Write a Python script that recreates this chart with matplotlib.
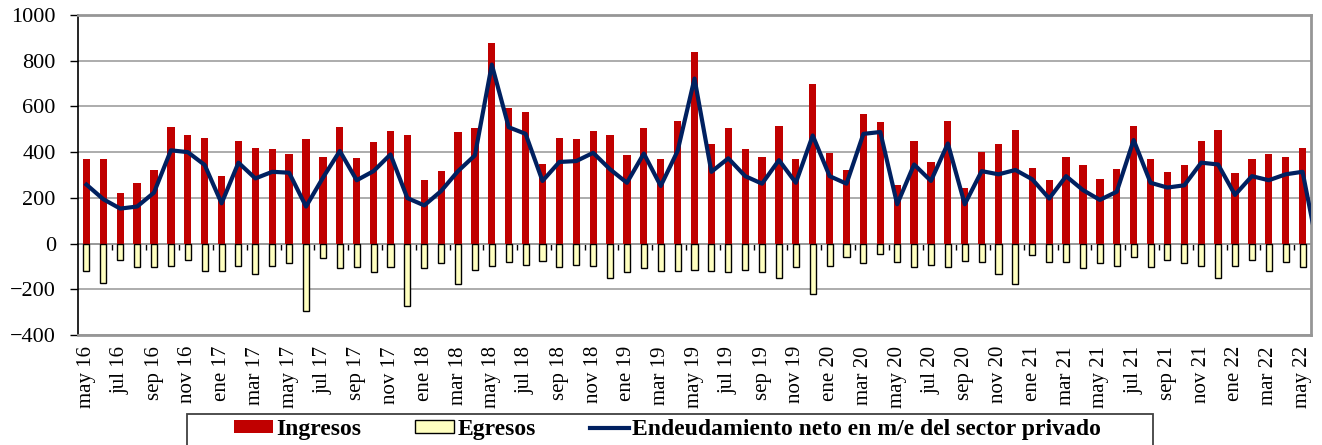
import numpy as np
import matplotlib
matplotlib.use("Agg")
import matplotlib.pyplot as plt
from matplotlib.patches import Patch, Rectangle
from matplotlib.lines import Line2D

# monthly flows, may 2016 - may 2022 (millones de USD)
meses = ["ene", "feb", "mar", "abr", "may", "jun", "jul", "ago", "sep", "oct", "nov", "dic"]

ingresos = [368, 368, 223, 266, 320, 511, 473, 461, 294, 450, 418, 412, 390, 456, 380, 511, 374, 445, 493, 477, 277, 316,
            488, 504, 878, 591, 574, 348, 461, 456, 493, 477, 386, 504, 368, 537, 840, 434, 504, 412, 380, 515, 368, 699,
            396, 320, 569,
            531, 256, 450, 358, 537, 245, 402, 434, 499, 330, 277, 380, 342, 282, 326, 515, 368, 314, 342, 450, 499, 310,
            368, 390, 380, 418]

egresos = [-119, -173, -70, -103, -103, -98, -70, -119, -119, -98, -131, -98, -83, -293, -64, -109, -103, -125, -103,
           -271, -109, -87,
           -175, -114, -98, -82, -93, -76, -103, -93, -98, -151, -125, -109, -119, -119, -114, -119, -125, -114, -125,
           -151, -103, -221, -98, -60, -87,
           -44, -82, -103, -93, -103, -76, -82, -131, -175, -49, -82, -82, -109, -87, -98, -60, -103, -70, -87, -98,
           -151, -98, -70, -119, -82, -103]

# net series carries one extra month (jun 22) that falls past the axis edge
neto = [258, 194, 153, 162, 223, 408, 400, 344, 176, 354, 285, 314, 310, 162, 288, 405, 277, 317, 390, 199, 167, 230,
        317, 386, 783, 509, 480, 274, 357, 361, 397, 325, 266, 394, 252, 405, 722, 314, 373, 295, 262, 365, 266, 473,
        295, 262, 480,
        488, 172, 346, 274, 438, 172, 317, 303, 322, 281, 197, 295, 234, 191, 227, 453, 266, 245, 255, 354, 346, 213,
        295, 277, 303, 314, -60]

etiquetas = []
for k in range(len(ingresos)):
    m = (4 + k) % 12
    a = 16 + (4 + k) // 12
    etiquetas.append(f"{meses[m]} {a}")

plt.rcParams['font.family'] = ['Liberation Serif', 'DejaVu Serif']

W, H = 1322, 445
fig = plt.figure(figsize=(W / 100, H / 100), dpi=100)
ax = fig.add_axes([78 / W, 1 - 335 / H, (1311 - 78) / W, 320 / H])

x = np.arange(len(ingresos))
ax.bar(x, ingresos, width=0.43, color='#C00000', zorder=2)
ax.bar(x, egresos, width=0.36, color='#FFFFC0', edgecolor='black', linewidth=1.0, zorder=2)
ax.plot(np.arange(len(neto)), neto, color='#002060', lw=3.0, zorder=3)

ax.set_xlim(-0.5, len(ingresos) - 0.5)
ax.set_ylim(-400, 1000)
ax.set_yticks(range(-400, 1001, 200))
ax.yaxis.grid(True, color='#A6A6A6', lw=1.3, zorder=0)
ax.set_axisbelow(True)

ax.set_xticks(x[::2])
ax.set_xticklabels(etiquetas[::2], rotation=90, fontsize=15)
ax.tick_params(axis='x', length=0, pad=8)
ax.tick_params(axis='y', direction='out', length=6, width=1, labelsize=16, pad=10)

for s in ['top', 'right', 'bottom']:
    ax.spines[s].set_color('#969696')
    ax.spines[s].set_linewidth(2)
ax.spines['left'].set_color('black')
ax.spines['left'].set_linewidth(1.2)

# category axis crossing at zero with a tick every two months
cero = ax.secondary_xaxis(400 / 1400)
cero.set_xticks(np.arange(1.5, len(ingresos) - 1, 2))
cero.tick_params(direction='out', length=4, width=1, color='black', labelbottom=False)
cero.spines['bottom'].set_color('black')
cero.spines['bottom'].set_linewidth(1.2)

handles = [Patch(facecolor='#C00000', edgecolor='none'),
           Patch(facecolor='#FFFFC0', edgecolor='black', linewidth=1),
           Line2D([], [], color='#002060', lw=3)]
labels = ['Ingresos', 'Egresos', 'Endeudamiento neto en m/e del sector privado']
fig.legend(handles, labels, loc='upper left', bbox_to_anchor=(234 / W, 1 - 419 / H), ncol=3,
           frameon=False, borderpad=0, borderaxespad=0, handlelength=1.65, handleheight=0.48,
           handletextpad=0.13, columnspacing=2.3, prop={'weight': 'bold', 'size': 17})
fig.patches.append(Rectangle((187 / W, -0.05), (1153 - 187) / W, 0.05 + 1 - 414 / H,
                             transform=fig.transFigure, fill=False, edgecolor='#404040', lw=1.3))

fig.savefig('out.png', dpi=100)
